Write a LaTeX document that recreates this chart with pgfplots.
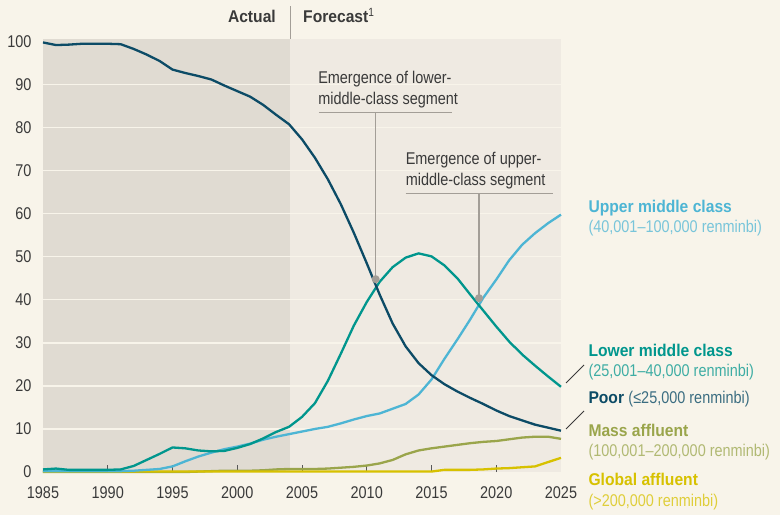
\documentclass[border=0pt]{standalone}
\usepackage{fontspec}
\setmainfont{Liberation Sans}[FakeStretch=0.85, BoldFeatures={FakeStretch=0.92}]
\usepackage{pgfplots}
\pgfplotsset{compat=1.18}
\usepackage{pgfplotstable}

\definecolor{PageBg}{HTML}{F8F4EA}
\definecolor{ActualBg}{HTML}{E0DBD2}
\definecolor{ForecastBg}{HTML}{EFEAE2}
\definecolor{PoorCol}{HTML}{0C4B66}
\definecolor{LowerCol}{HTML}{00968D}
\definecolor{UpperCol}{HTML}{4DB5D4}
\definecolor{MassCol}{HTML}{9AA54B}
\definecolor{GlobalCol}{HTML}{D7C100}
\definecolor{TextCol}{HTML}{3A3A3A}
\definecolor{NoteCol}{HTML}{A39E97}

% share of urban households by income segment, %
\pgfplotstableread{
year poor lower upper mass global
1985 99.8 0.6 0.2 0 0.1
1986 99.2 0.8 0.2 0 0.1
1987 99.3 0.5 0.2 0 0.1
1988 99.5 0.5 0.2 0 0.1
1989 99.5 0.5 0.2 0 0.1
1990 99.5 0.5 0.2 0 0.1
1991 99.4 0.6 0.2 0 0.1
1992 98.3 1.4 0.3 0 0.1
1993 97.0 2.8 0.5 0 0.1
1994 95.5 4.2 0.7 0 0.1
1995 93.5 5.7 1.3 0 0.1
1996 92.7 5.5 2.5 0 0.1
1997 92.0 5.0 3.6 0.1 0.1
1998 91.2 4.8 4.5 0.2 0.1
1999 89.8 4.9 5.3 0.3 0.1
2000 88.5 5.6 5.9 0.3 0.1
2001 87.2 6.5 6.6 0.3 0.1
2002 85.3 7.8 7.5 0.4 0.1
2003 83.0 9.3 8.2 0.6 0.1
2004 80.8 10.5 8.8 0.7 0.1
2005 77.3 12.8 9.4 0.7 0.1
2006 73.0 16.0 10.0 0.7 0.1
2007 68.0 21.2 10.5 0.8 0.1
2008 62.2 27.5 11.3 1.0 0.1
2009 55.6 34.0 12.2 1.2 0.1
2010 48.5 39.5 13.0 1.5 0.1
2011 41.2 44.2 13.6 2.0 0.1
2012 34.5 47.6 14.7 2.8 0.1
2013 29.2 49.8 15.8 4.1 0.1
2014 25.3 50.8 18.0 5.0 0.1
2015 22.5 50.1 21.5 5.5 0.1
2016 20.4 48.0 26.3 5.9 0.5
2017 18.7 45.0 30.8 6.3 0.5
2018 17.2 41.2 35.5 6.7 0.5
2019 15.8 37.5 40.5 7.0 0.6
2020 14.3 33.8 44.7 7.2 0.8
2021 13.0 30.3 49.2 7.6 0.9
2022 12.0 27.3 52.8 8.0 1.1
2023 11.0 24.7 55.5 8.2 1.3
2024 10.3 22.2 57.8 8.2 2.3
2025 9.6 19.8 59.8 7.7 3.3
}\segments

\begin{document}
\begin{tikzpicture}[font=\fontsize{17}{20}\selectfont]
  % page and the actual / forecast panels
  \fill[PageBg] (-43pt,-43pt) rectangle (737pt,472pt);
  \useasboundingbox (-43pt,-43pt) rectangle (737pt,472pt);
  \fill[ActualBg] (0pt,0pt) rectangle (247pt,433.4pt);
  \fill[ForecastBg] (247pt,0pt) rectangle (518pt,433.4pt);
  \draw[NoteCol, line width=1pt] (247pt,433.4pt) -- (247pt,466pt);
  \node[anchor=base east, inner sep=0pt, text=TextCol] at (233pt,449.3pt) {\bfseries Actual};
  \node[anchor=base west, inner sep=0pt, text=TextCol] at (260pt,449.3pt) {\bfseries Forecast\textsuperscript{\mdseries 1}};

  \begin{axis}[
      scale only axis, width=518pt, height=433.4pt,
      xmin=1985, xmax=2025, ymin=0, ymax=100.7,
      axis line style={draw=none},
      xtick={1990,1995,...,2020},
      extra x ticks={1985,2025},
      extra x tick style={major tick length=0pt},
      ytick={10,20,...,90},
      extra y ticks={0,100},
      extra y tick style={grid=none, major tick length=0pt},
      ymajorgrids,
      grid style={PageBg, line width=1.3pt},
      xtick pos=bottom, ytick pos=left,
      ytick style={draw=none},
      xtick style={TextCol!85, line width=1pt},
      tick align=inside, major tick length=7pt,
      tick label style={font=\fontsize{17}{20}\selectfont, text=TextCol},
      /pgf/number format/assume math mode=true,
      /pgf/number format/1000 sep={},
      xticklabel style={yshift=-11pt},
      yticklabel style={xshift=-8pt},
      clip=false,
      every axis plot/.append style={line width=2.3pt, line join=round, no markers},
  ]
    \addplot[MassCol] table[x=year, y=mass] {\segments};
    \addplot[GlobalCol] table[x=year, y=global] {\segments};
    \addplot[UpperCol] table[x=year, y=upper] {\segments};
    \addplot[LowerCol] table[x=year, y=lower] {\segments};
    \addplot[PoorCol] table[x=year, y=poor] {\segments};

    % annotations
    \draw[NoteCol, line width=1.2pt] (axis cs:2010.69,44.8) -- (axis cs:2010.69,83.6);
    \draw[NoteCol, line width=1.2pt] (axis cs:2006.31,83.6) -- (axis cs:2016.58,83.6);
    \node[anchor=base west, inner sep=0pt, text=TextCol] at (axis cs:2006.24,90.2) {Emergence of lower-};
    \node[anchor=base west, inner sep=0pt, text=TextCol] at (axis cs:2006.24,85.5) {middle-class segment};
    \draw[NoteCol, line width=1.2pt] (axis cs:2018.67,40.4) -- (axis cs:2018.67,64.65);
    \draw[NoteCol, line width=1.2pt] (axis cs:2013.0,64.65) -- (axis cs:2024.38,64.65);
    \node[anchor=base west, inner sep=0pt, text=TextCol] at (axis cs:2013.0,71.4) {Emergence of upper-};
    \node[anchor=base west, inner sep=0pt, text=TextCol] at (axis cs:2013.0,66.5) {middle-class segment};
    \addplot[only marks, mark=*, mark size=2.8pt, NoteCol] coordinates {(2010.69,44.8) (2018.67,40.4)};
  \end{axis}

  % series labels
  \begin{scope}[every node/.style={anchor=base west, inner sep=0pt}]
    \node[text=UpperCol] at (545.3pt,259.3pt) {\bfseries Upper middle class};
    \node[text=UpperCol!75!PageBg] at (545.3pt,240pt) {(40,001–100,000 renminbi)};
    \node[text=LowerCol] at (545.3pt,116pt) {\bfseries Lower middle class};
    \node[text=LowerCol!75!PageBg] at (545.3pt,95.3pt) {(25,001–40,000 renminbi)};
    \node[text=PoorCol] at (545.3pt,68.7pt) {\bfseries Poor \mdseries\color{PoorCol!80!PageBg}(≤25,000 renminbi)};
    \node[text=MassCol] at (545.3pt,36pt) {\bfseries Mass affluent};
    \node[text=MassCol!75!PageBg] at (545.3pt,15.3pt) {(100,001–200,000 renminbi)};
    \node[text=GlobalCol] at (545.3pt,-13.7pt) {\bfseries Global affluent};
    \node[text=GlobalCol!75!PageBg] at (545.3pt,-34pt) {(>200,000 renminbi)};
  \end{scope}
  \draw[TextCol, line width=0.8pt] (523pt,89pt) -- (541pt,107pt);
  \draw[TextCol, line width=0.8pt] (523pt,43pt) -- (541pt,61pt);
\end{tikzpicture}
\end{document}
